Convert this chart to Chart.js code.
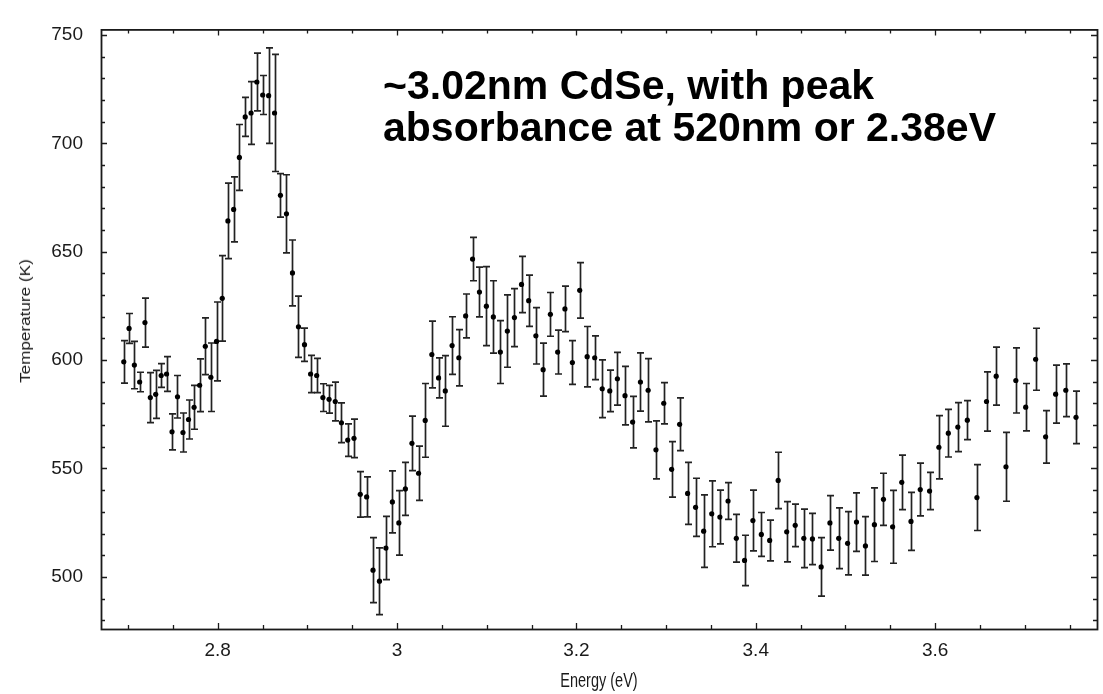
<!DOCTYPE html>
<html>
<head>
<meta charset="utf-8">
<title>CdSe temperature vs energy</title>
<script src="https://cdn.jsdelivr.net/npm/chart.js@4.4.1/dist/chart.umd.min.js"></script>
<style>
  html, body { margin: 0; padding: 0; background: #fff; }
  #wrap { position: relative; width: 1103px; height: 694px; }
  #note {
    position: absolute; left: 383px; top: 64px;
    font: bold 41px "Liberation Sans", Arial, sans-serif;
    line-height: 42px; color: #000; white-space: nowrap;
  }
  .axis-title {
    position: absolute; white-space: nowrap; color: #1a1a1a;
    font: 14.5px "Liberation Sans", Arial, sans-serif; line-height: 16px;
  }
  #x-title { left: 599px; top: 680px; transform: translate(-50%, -50%) scaleY(1.35); }
  #y-title { left: 25px; top: 321px; transform: translate(-50%, -50%) rotate(-90deg) scaleX(1.18); }
</style>
</head>
<body>
<div id="wrap">
  <canvas id="chart" width="1103" height="694"></canvas>
  <div id="note">~3.02nm CdSe, with peak<br>absorbance at 520nm or 2.38eV</div>
  <div class="axis-title" id="x-title">Energy (eV)</div>
  <div class="axis-title" id="y-title">Temperature (K)</div>
</div>
<script>
// ── DATA ──────────────────────────────────────────────────────
// one point per nm, 460 nm down to 330 nm, shown as energy (eV)
const energyEV = [
  2.6953, 2.7012, 2.7071, 2.7130, 2.7189, 2.7249, 2.7309, 2.7370, 2.7430, 2.7491,
  2.7552, 2.7613, 2.7675, 2.7737, 2.7799, 2.7862, 2.7924, 2.7987, 2.8051, 2.8114,
  2.8178, 2.8242, 2.8307, 2.8372, 2.8437, 2.8502, 2.8568, 2.8634, 2.8700, 2.8767,
  2.8834, 2.8901, 2.8968, 2.9036, 2.9104, 2.9173, 2.9242, 2.9311, 2.9380, 2.9450,
  2.9520, 2.9590, 2.9661, 2.9732, 2.9804, 2.9876, 2.9948, 3.0020, 3.0093, 3.0166,
  3.0240, 3.0314, 3.0388, 3.0463, 3.0538, 3.0614, 3.0689, 3.0765, 3.0842, 3.0919,
  3.0996, 3.1074, 3.1152, 3.1230, 3.1309, 3.1388, 3.1468, 3.1548, 3.1629, 3.1710,
  3.1791, 3.1872, 3.1955, 3.2037, 3.2120, 3.2204, 3.2288, 3.2372, 3.2457, 3.2542,
  3.2627, 3.2714, 3.2800, 3.2887, 3.2974, 3.3062, 3.3151, 3.3240, 3.3329, 3.3419,
  3.3509, 3.3600, 3.3691, 3.3783, 3.3875, 3.3968, 3.4062, 3.4155, 3.4250, 3.4345,
  3.4440, 3.4536, 3.4632, 3.4729, 3.4827, 3.4925, 3.5024, 3.5123, 3.5223, 3.5323,
  3.5424, 3.5526, 3.5628, 3.5731, 3.5834, 3.5938, 3.6042, 3.6147, 3.6253, 3.6359,
  3.6466, 3.6573, 3.6681, 3.6790, 3.6900, 3.7010, 3.7121, 3.7232, 3.7344, 3.7457,
  3.7571
];

const temperatureK = [
  599.2, 614.6, 597.7, 589.9, 617.3, 582.7, 584.2, 592.9, 593.6, 566.9,
  583.1, 566.6, 572.6, 578.2, 588.4, 606.4, 592.1, 608.6, 628.5, 664.2,
  669.5, 693.5, 712.2, 714.0, 728.3, 722.3, 722.0, 714.0, 676.0, 667.5,
  640.2, 615.4, 607.1, 593.6, 592.9, 582.7, 581.9, 580.9, 571.1, 563.1,
  563.9, 538.1, 536.9, 503.1, 498.0, 513.3, 534.6, 524.9, 540.6, 561.6,
  547.8, 572.2, 602.6, 591.8, 585.8, 606.7, 601.1, 620.4, 646.6, 631.4,
  624.9, 619.9, 603.7, 613.4, 619.6, 634.9, 627.4, 611.2, 595.6, 621.1,
  603.7, 623.6, 598.9, 632.2, 601.6, 601.1, 586.8, 585.8, 591.4, 583.6,
  571.4, 589.9, 586.1, 558.6, 580.1, 549.6, 570.4, 538.5, 532.1, 521.1,
  529.1, 527.6, 535.0, 517.8, 507.6, 526.0, 519.6, 516.8, 544.5, 520.8,
  523.8, 517.8, 517.5, 504.6, 524.9, 517.8, 515.5, 525.3, 514.3, 524.1,
  535.8, 523.1, 543.6, 525.6, 540.3, 539.6, 559.8, 566.3, 569.1, 572.3,
  536.6, 580.9, 592.6, 550.8, 590.6, 578.3, 600.4, 564.6, 584.3, 586.1,
  573.6
];

// half length of each error bar (K)
const errorK = [
  9.8, 6.9, 10.9, 4.5, 11.3, 11.5, 11.1, 5.5, 8.0, 8.3,
  9.8, 9.0, 9.0, 10.1, 12.2, 13.1, 15.8, 18.2, 19.7, 17.4,
  15.0, 15.2, 9.0, 14.5, 13.3, 9.0, 22.0, 27.0, 10.0, 18.0,
  15.2, 14.1, 7.7, 8.6, 7.9, 6.4, 6.4, 8.9, 9.2, 7.5,
  8.9, 10.5, 9.2, 15.0, 15.4, 14.6, 14.3, 14.9, 12.2, 12.6,
  12.5, 17.0, 15.4, 9.2, 16.3, 13.3, 13.0, 10.1, 10.0, 11.5,
  18.2, 16.7, 14.5, 16.7, 13.4, 13.0, 11.8, 13.0, 12.2, 10.1,
  10.1, 10.5, 10.1, 12.8, 13.9, 10.1, 13.3, 9.6, 12.2, 13.5,
  11.9, 13.4, 14.6, 13.4, 9.5, 12.8, 12.2, 14.3, 13.4, 16.7,
  15.2, 12.4, 8.5, 11.0, 11.6, 14.0, 10.1, 9.4, 13.0, 13.9,
  9.8, 13.5, 11.8, 13.5, 12.6, 14.0, 14.6, 13.5, 13.5, 17.0,
  12.0, 16.8, 12.6, 13.4, 12.2, 8.6, 14.6, 11.0, 11.3, 9.0,
  15.2, 13.7, 13.4, 15.9, 15.0, 10.9, 14.3, 12.1, 13.4, 12.2,
  12.1
];

// tick labels + minor tick marks
const xTickLabels = [2.8, 3, 3.2, 3.4, 3.6];
const yTickLabels = [500, 550, 600, 650, 700, 750];
const xMinorTicks = [2.7, 2.75, 2.85, 2.9, 2.95, 3.05, 3.1, 3.15, 3.25, 3.3, 3.35,
                     3.45, 3.5, 3.55, 3.65, 3.7, 3.75];
const yMinorTicks = [480, 490, 510, 520, 530, 540, 560, 570, 580, 590, 610, 620, 630,
                     640, 660, 670, 680, 690, 710, 720, 730, 740];

const INK = "#1a1a1a";
const FONT = "'Liberation Sans', Arial, sans-serif";

// ── ERROR BARS ────────────────────────────────────────────────
const errorBarPlugin = {
  id: "errorBars",
  beforeDatasetsDraw(chart) {
    const { ctx, scales: { x, y } } = chart;
    ctx.save();
    ctx.strokeStyle = "#222";
    ctx.lineWidth = 1.7;
    energyEV.forEach((e, i) => {
      const px = Math.round(x.getPixelForValue(e)) + 0.5;
      const top = y.getPixelForValue(temperatureK[i] + errorK[i]);
      const bot = y.getPixelForValue(temperatureK[i] - errorK[i]);
      ctx.beginPath();
      ctx.moveTo(px, top); ctx.lineTo(px, bot);
      ctx.moveTo(px - 3.5, top); ctx.lineTo(px + 3.5, top);
      ctx.moveTo(px - 3.5, bot); ctx.lineTo(px + 3.5, bot);
      ctx.stroke();
    });
    ctx.restore();
  }
};

// ── FRAME + INWARD TICKS ──────────────────────────────────────
const framePlugin = {
  id: "frame",
  afterDraw(chart) {
    const { ctx, chartArea: a, scales: { x, y } } = chart;
    ctx.save();
    ctx.strokeStyle = INK;
    ctx.lineWidth = 1.8;
    ctx.strokeRect(a.left + 0.5, a.top + 0.5, a.right - a.left, a.bottom - a.top);

    ctx.lineWidth = 1.3;
    const xMark = (v, len) => {
      const px = Math.round(x.getPixelForValue(v)) + 0.5;
      ctx.moveTo(px, a.bottom); ctx.lineTo(px, a.bottom - len);
      ctx.moveTo(px, a.top);    ctx.lineTo(px, a.top + len);
    };
    const yMark = (v, len) => {
      const py = Math.round(y.getPixelForValue(v)) + 0.5;
      ctx.moveTo(a.left, py);  ctx.lineTo(a.left + len, py);
      ctx.moveTo(a.right, py); ctx.lineTo(a.right - len, py);
    };
    ctx.beginPath();
    xTickLabels.forEach(v => xMark(v, 6));
    xMinorTicks.forEach(v => xMark(v, 4));
    yTickLabels.forEach(v => yMark(v, 6));
    yMinorTicks.forEach(v => yMark(v, 4));
    ctx.stroke();
    ctx.restore();
  }
};

// ── CHART ─────────────────────────────────────────────────────
new Chart(document.getElementById("chart").getContext("2d"), {
  type: "scatter",
  data: {
    datasets: [{
      label: "Temperature",
      data: energyEV.map((e, i) => ({ x: e, y: temperatureK[i] })),
      pointRadius: 2.6,
      pointBackgroundColor: "#000",
      pointBorderColor: "#000",
      pointBorderWidth: 0,
      showLine: false,
    }],
  },
  options: {
    responsive: false,
    animation: false,
    layout: { padding: { top: 13, right: 6, left: 0, bottom: 0 } },
    plugins: { legend: { display: false }, tooltip: { enabled: false } },
    scales: {
      x: {
        type: "linear",
        min: 2.6699,
        max: 3.7805,
        grid: { display: false, drawTicks: false },
        border: { display: false },
        afterBuildTicks: s => { s.ticks = xTickLabels.map(v => ({ value: v })); },
        afterFit: s => { s.height = 65; },
        ticks: {
          padding: 10,
          color: INK,
          font: { family: FONT, size: 19 },
          callback: v => String(v),
        },
      },
      y: {
        min: 475.96,
        max: 752.56,
        grid: { display: false, drawTicks: false },
        border: { display: false },
        afterBuildTicks: s => { s.ticks = yTickLabels.map(v => ({ value: v })); },
        afterFit: s => { s.width = 101; },
        ticks: {
          padding: 18,
          color: INK,
          font: { family: FONT, size: 19 },
          callback: v => String(v),
        },
      },
    },
  },
  plugins: [errorBarPlugin, framePlugin],
});
</script>
</body>
</html>
